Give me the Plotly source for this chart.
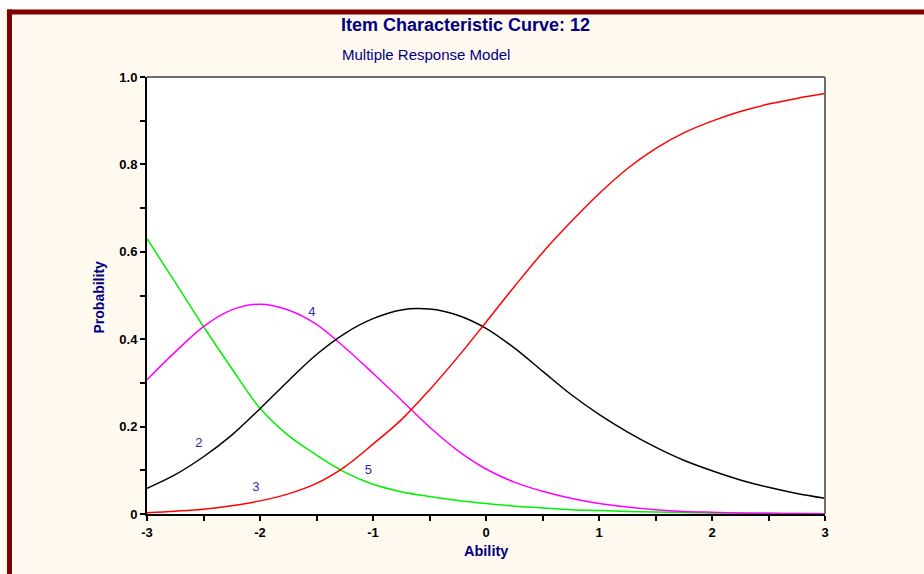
import plotly.graph_objects as go

ability = [-3, -2.75, -2.5, -2.25, -2, -1.75, -1.5, -1.25, -1, -0.75, -0.5, -0.25,
           0, 0.25, 0.5, 0.75, 1, 1.25, 1.5, 1.75, 2, 2.25, 2.5, 2.75, 3]

cat_green = [0.630, 0.530, 0.429, 0.333, 0.242, 0.180, 0.135, 0.096, 0.068, 0.051, 0.040, 0.031,
             0.024, 0.018, 0.014, 0.010, 0.008, 0.006, 0.0045, 0.0035, 0.0025, 0.002, 0.0015, 0.001, 0.0008]
cat_magenta = [0.307, 0.371, 0.429, 0.467, 0.480, 0.467, 0.434, 0.381, 0.322, 0.261, 0.199, 0.145,
               0.103, 0.073, 0.052, 0.036, 0.024, 0.016, 0.010, 0.006, 0.004, 0.0025, 0.0015, 0.001, 0.0006]
cat_black = [0.0587, 0.090, 0.131, 0.1805, 0.241, 0.3045, 0.3650, 0.4130, 0.447, 0.467, 0.469, 0.455,
             0.425, 0.380, 0.327, 0.274, 0.228, 0.188, 0.153, 0.123, 0.099, 0.078, 0.061, 0.047, 0.036]
cat_red = [0.003, 0.0065, 0.011, 0.019, 0.030, 0.046, 0.070, 0.108, 0.160, 0.2154, 0.284, 0.359,
           0.439, 0.520, 0.598, 0.668, 0.733, 0.790, 0.836, 0.872, 0.899, 0.921, 0.938, 0.951, 0.962]

curve_labels = ["2", "3", "4", "5"]
label_x = [-2.54, -2.036, -1.54, -1.04]
label_y = [0.161, 0.060, 0.461, 0.099]

y_tickvals = [0, 0.2, 0.4, 0.6, 0.8, 1.0]
y_ticktext = ["0", "0.2", "0.4", "0.6", "0.8", "1.0"]
x_tickvals = [-3, -2, -1, 0, 1, 2, 3]
x_ticktext = ["-3", "-2", "-1", "0", "1", "2", "3"]

W, H = 924, 574
L, R, T, B = 147, 825, 77, 514


def xf(px):
    return (px - L) / (R - L)


def yf(py):
    return (B - py) / (B - T)


fig = go.Figure()
for ys, col in [(cat_green, "#00F000"), (cat_magenta, "#FF00FF"),
                (cat_black, "#000000"), (cat_red, "#FF0000")]:
    fig.add_trace(go.Scatter(x=ability, y=ys, mode="lines",
                             line=dict(color=col, width=1.5, shape="spline", smoothing=1.0),
                             showlegend=False, hoverinfo="skip"))

fig.add_trace(go.Scatter(x=label_x, y=label_y, mode="text", text=curve_labels,
                         textfont=dict(family="Liberation Sans, Arial", size=13, color="#2E2E9A"),
                         showlegend=False, hoverinfo="skip", cliponaxis=False))

font_family = "Liberation Sans, Arial, sans-serif"
fig.update_layout(
    width=W, height=H,
    margin=dict(l=L, r=W - R, t=T, b=H - B, pad=0),
    paper_bgcolor="#FFF9EF",
    plot_bgcolor="#FFFFFF",
    font=dict(family=font_family),
    xaxis=dict(range=[-3, 3], tickvals=x_tickvals, ticktext=x_ticktext,
               showgrid=False, zeroline=False, showline=True, linecolor="#000000", linewidth=2,
               ticks="outside", ticklen=5, tickwidth=1.5, tickcolor="#000000",
               minor=dict(dtick=0.5, tick0=0, ticks="outside", ticklen=5, tickwidth=1.5, tickcolor="#000000"),
               tickfont=dict(family=font_family, size=13, color="#000000", weight="bold"),
               fixedrange=True),
    yaxis=dict(range=[0, 1], tickvals=y_tickvals, ticktext=y_ticktext,
               showgrid=False, zeroline=False, showline=True, linecolor="#000000", linewidth=2,
               ticks="outside", ticklen=5, tickwidth=1.5, tickcolor="#000000",
               minor=dict(dtick=0.1, tick0=0, ticks="outside", ticklen=5, tickwidth=1.5, tickcolor="#000000"),
               tickfont=dict(family=font_family, size=13, color="#000000", weight="bold"),
               fixedrange=True),
    shapes=[
        dict(type="rect", xref="paper", yref="paper", x0=xf(0), x1=xf(W), y0=yf(9), y1=yf(0),
             fillcolor="#FFFFFF", line=dict(width=0), layer="below"),
        dict(type="rect", xref="paper", yref="paper", x0=xf(7), x1=xf(W), y0=yf(14.5), y1=yf(9.5),
             fillcolor="#800000", line=dict(width=0)),
        dict(type="rect", xref="paper", yref="paper", x0=xf(7), x1=xf(12), y0=yf(H), y1=yf(9.5),
             fillcolor="#800000", line=dict(width=0)),
        dict(type="line", xref="paper", yref="paper", x0=0, x1=1, y0=1, y1=1,
             line=dict(color="#6E6E6E", width=2)),
        dict(type="line", xref="paper", yref="paper", x0=1, x1=1, y0=0, y1=1,
             line=dict(color="#6E6E6E", width=2)),
    ],
    annotations=[
        dict(text="<b>Item Characteristic Curve: 12</b>", xref="paper", yref="paper",
             x=xf(465), y=yf(25), showarrow=False, xanchor="center", yanchor="middle",
             font=dict(family=font_family, size=18, color="#000080")),
        dict(text="Multiple Response Model", xref="paper", yref="paper",
             x=xf(425.5), y=yf(54), showarrow=False, xanchor="center", yanchor="middle",
             font=dict(family=font_family, size=15, color="#000080")),
        dict(text="<b>Probability</b>", xref="paper", yref="paper", textangle=-90,
             x=xf(98), y=yf(297.5), showarrow=False, xanchor="center", yanchor="middle",
             font=dict(family=font_family, size=14, color="#000080")),
        dict(text="<b>Ability</b>", xref="paper", yref="paper",
             x=xf(485.5), y=yf(551), showarrow=False, xanchor="center", yanchor="middle",
             font=dict(family=font_family, size=14.5, color="#000080")),
    ],
)

fig.write_html("out.html", config={"displayModeBar": False},
               post_script="document.body.style.margin='0';document.body.style.padding='0';"
                           "document.body.style.overflow='hidden';")
